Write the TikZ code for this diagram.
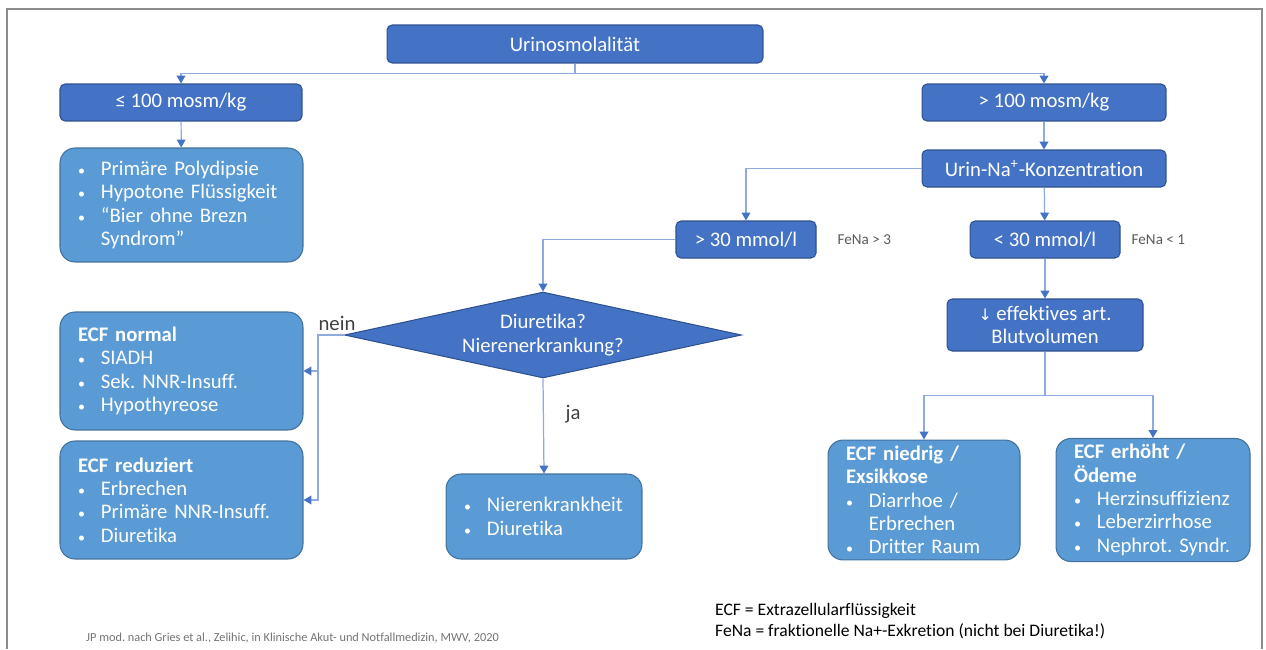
\documentclass[tikz,border=0pt]{standalone}
\usepackage{fontspec}
\setmainfont{Carlito}[Ligatures={TeX,NoCommon}]
\newfontfamily\symf{DejaVu Sans}
\usetikzlibrary{arrows.meta,positioning,shapes.geometric}

\definecolor{dblue}{HTML}{4472C4}
\definecolor{dborder}{HTML}{2F528F}
\definecolor{lblue}{HTML}{5B9BD5}
\definecolor{lborder}{HTML}{41719C}
\definecolor{lline}{HTML}{8FAADC}
\definecolor{framegray}{HTML}{8C8C8C}

\newcommand{\itm}{\makebox[13pt][l]{\footnotesize\textbullet}}
\newcommand{\cnt}{\hspace*{13pt}}

\begin{document}
\frenchspacing\hyphenpenalty=10000\exhyphenpenalty=10000
\begin{tikzpicture}[x=0.02cm, y=-0.02cm, font=\fontsize{11.8}{13.3}\selectfont,
  darkbox/.style={draw=dborder, fill=dblue, text=white, rounded corners=0.1cm, align=center, minimum height=0.74cm, line width=0.6pt},
  listbox/.style={draw=lborder, fill=lblue, text=white, rounded corners=0.3cm, align=left, inner xsep=0.36cm, text width=#1, line width=0.6pt},
  conn/.style={draw=lline, line width=0.7pt, -{Triangle[width=5pt,length=4.5pt,color=dblue]}},
  note/.style={text=black!65, font=\fontsize{8.6}{10}\selectfont}]

  \useasboundingbox (0,0) rectangle (1266,649);
  \draw[framegray, line width=1.1pt] (7,649) -- (7,9) -- (1262,9) -- (1262,649);

  % top level
  \node[darkbox, minimum width=7.52cm, minimum height=0.76cm] (uosm) at (575,44) {Urinosmolalität};
  \node[darkbox, minimum width=4.84cm] (low) at (181,102.5) {≤ 100 mosm/kg};
  \node[darkbox, minimum width=4.88cm] (high) at (1044,102.5) {> 100 mosm/kg};

  \node[listbox=4.14cm, minimum height=2.28cm] (lowlist) at (181.5,205)
    {\itm Primäre Polydipsie\\ \itm Hypotone Flüssigkeit\\ \itm “Bier ohne Brezn\\ \cnt Syndrom”};

  % urine sodium
  \node[darkbox, minimum width=4.88cm] (una) at (1044,168.5) {Urin-Na\textsuperscript{+}-Konzentration};
  \node[darkbox, minimum width=2.8cm] (gt30) at (746,239.5) {> 30 mmol/l};
  \node[darkbox, minimum width=3.0cm] (lt30) at (1045,239.5) {< 30 mmol/l};
  \node[note, right=0.3cm of gt30] (fena3) {FeNa > 3};
  \node[note, right=0.1cm of lt30] (fena1) {FeNa < 1};

  \node[shape=diamond, aspect=4.6, inner sep=0pt, draw=dborder, fill=dblue, text=white, align=center,
    minimum width=7.94cm, minimum height=1.72cm, line width=0.6pt] (diam) at (543,335) {Diuretika?\\ Nierenerkrankung?};

  \node[listbox=4.14cm, minimum height=2.36cm] (ecfn) at (181.5,371)
    {\textbf{ECF normal}\\ \itm SIADH\\ \itm Sek. NNR-Insuff.\\ \itm Hypothyreose};
  \node[listbox=4.14cm, minimum height=2.36cm] (ecfr) at (181.5,500)
    {\textbf{ECF reduziert}\\ \itm Erbrechen\\ \itm Primäre NNR-Insuff.\\ \itm Diuretika};
  \node[listbox=3.2cm, minimum height=1.7cm] (niere) at (544,516.5)
    {\itm Nierenkrankheit\\ \itm Diuretika};

  \node[darkbox, minimum width=3.92cm, minimum height=1.04cm] (eff) at (1045,325)
    {{\symf\small ↓} effektives art.\\ Blutvolumen};
  \node[listbox=3.12cm, minimum height=2.36cm] (ecfl) at (924,500)
    {\textbf{ECF niedrig /}\\ \textbf{Exsikkose}\\ \itm Diarrhoe /\\ \cnt Erbrechen\\ \itm Dritter Raum};
  \node[listbox=3.16cm, minimum height=2.36cm] (ecfh) at (1153,500)
    {\textbf{ECF erhöht /}\\ \textbf{Ödeme}\\ \itm Herzinsuffizienz\\ \itm Leberzirrhose\\ \itm Nephrot. Syndr.};

  % connectors
  \draw[conn] (uosm.south) -- ++(0,10) -| (low.north);
  \draw[conn] (uosm.south) -- ++(0,10) -| (high.north);
  \draw[conn] (low) -- (lowlist);
  \draw[conn] (high) -- (una);
  \draw[conn] (una.west) -| (gt30.north);
  \draw[conn] (una) -- (lt30);
  \draw[conn] (gt30.west) -| (diam.north);

  \coordinate (nj) at (318,335);
  \draw[conn] (diam.west) -- (nj) |- (ecfn.east);
  \draw[conn] (nj) |- (ecfr.east);
  \node[text=black!75] (nein) at (337,323) {nein};
  \draw[conn] (diam.south) -- (niere.north);
  \node[text=black!75] (ja) at (573,414) {ja};

  \draw[conn] (lt30) -- (eff);
  \draw[conn] (eff.south) -- ++(0,44) -| (ecfl.north);
  \draw[conn] (eff.south) -- ++(0,44) -| (ecfh.north);

  % legend and source
  \node[anchor=west, align=left, font=\fontsize{10}{11.9}\selectfont] (legend) at (709,621.5)
    {ECF = Extrazellularflüssigkeit\\ FeNa = fraktionelle Na+-Exkretion (nicht bei Diuretika!)};
  \node[anchor=west, text=black!55, font=\fontsize{7}{8}\selectfont] (source) at (80,638)
    {JP mod. nach Gries et al., Zelihic, in Klinische Akut- und Notfallmedizin, MWV, 2020};

\end{tikzpicture}
\end{document}
